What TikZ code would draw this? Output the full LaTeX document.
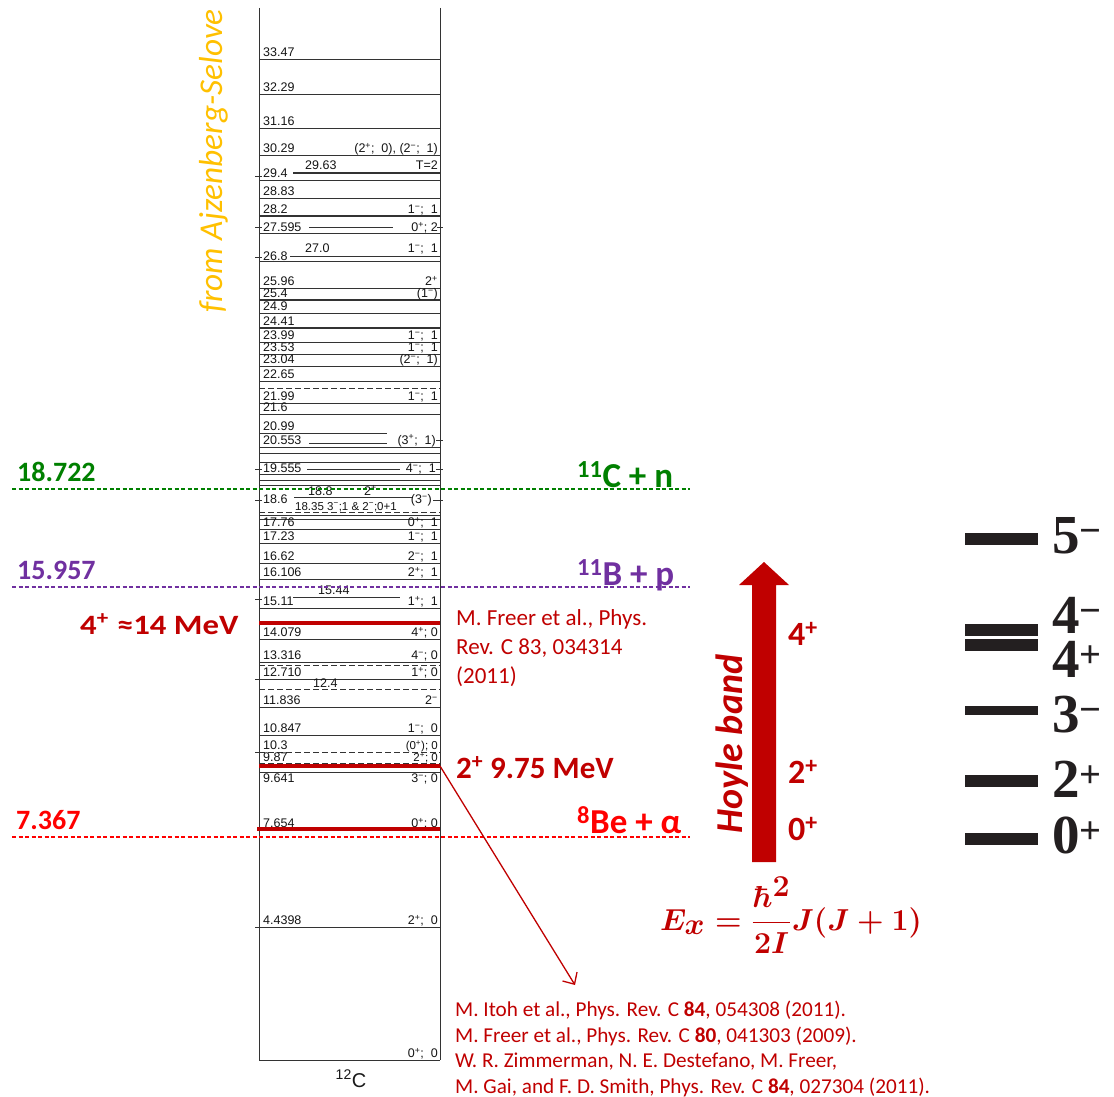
\documentclass[tikz,border=0pt]{standalone}
\usepackage[no-math]{fontspec}
\setmainfont{Carlito}
\newfontfamily\levelfont{Liberation Sans}
\newfontfamily\specfont{Liberation Serif}
\usetikzlibrary{arrows.meta}

\definecolor{darkred}{HTML}{C00000}
\definecolor{brightred}{HTML}{FF0000}
\definecolor{thrgreen}{HTML}{008000}
\definecolor{thrpurple}{HTML}{7030A0}
\definecolor{amber}{HTML}{FFC000}
\definecolor{ink}{HTML}{231F20}

\newcommand\fsz[1]{\fontsize{#1}{#1}\selectfont}
\newcommand\jp{\textsuperscript{+}}
\newcommand\jm{\textsuperscript{−}}
% rigid-rotor formula, set once in a box
\newsavebox\rotorbox
\AtBeginDocument{\sbox\rotorbox{\color{darkred}\fsz{34}\boldmath$\displaystyle E_x=\frac{\hbar^2}{2I}J(J+1)$}}

% one level of the 12C scheme: line, energy on the left, J^pi;T on the right
\newcommand\lev[3]{%
  \draw[level] (259,#1) -- (440,#1);
  \node[elabel] (L#1) at (263,#1-2.5) {#2};
  \node[jlabel] (R#1) at (438,#1-2.5) {#3};}

\begin{document}
\begin{tikzpicture}[x=1pt,y=-1pt,
  level/.style={draw=black!80, line width=0.8pt},
  heavy level/.style={level, line width=1.5pt},
  broken level/.style={level, dash pattern=on 6pt off 3pt},
  elabel/.style={font=\levelfont\fsz{12.5}, text=black!92, inner sep=0pt, anchor=base west},
  jlabel/.style={elabel, anchor=base east},
  tick/.style={level},
  threshold/.style={line width=1.3pt, dash pattern=on 4pt off 2.5pt},
  hoyle level/.style={draw=darkred, line width=4.5pt},
  bigbold/.style={font=\bfseries\fsz{28}, inner sep=0pt, anchor=base west},
  chan/.style={font=\bfseries\fsz{35}, inner sep=0pt, anchor=base west},
  spin/.style={font=\bfseries\fsz{34}, text=darkred, inner sep=0pt, anchor=base west},
  cite/.style={font=\fsz{23}, text=darkred, inner sep=0pt, anchor=base west},
  refline/.style={font=\fsz{21.2}, text=darkred, inner sep=0pt, anchor=base west},
  bar/.style={fill=ink},
  speclab/.style={font=\specfont\bfseries\fsz{55}, text=ink, inner sep=0pt, anchor=base west},
]
\clip (0,0) rectangle (1114,1097);
\fill[white] (0,0) rectangle (1114,1097);

% ---------- level scheme of 12C ----------
\draw[level] (259,8) -- (259,1060);
\draw[level] (440,8) -- (440,1060);

\lev{59}{33.47}{}
\lev{94}{32.29}{}
\lev{128}{31.16}{}
\lev{155}{30.29}{(2\jp;\ \ 0), (2\jm;\ \ 1)}
\draw[heavy level] (293,173) -- (440,173);
\node[elabel] (L173) at (305,170) {29.63};
\node[jlabel] (R173) at (438,170) {T=2};
\lev{180}{29.4}{}
\draw[tick] (255,176) -- (262,176);
\lev{198}{28.83}{}
\draw[heavy level] (259,216) -- (440,216);
\node[elabel] (L216) at (263,213.5) {28.2};
\node[jlabel] (R216) at (438,213.5) {1\jm;\ \ 1};
\draw[level] (309,227) -- (393,227);
\node[elabel] (L227) at (263,231.5) {27.595};
\node[jlabel] (R227) at (438,231.5) {0\jp;\ 2};
\draw[tick] (255,227) -- (262,227);
\draw[tick] (437,227) -- (443,227);
\lev{233}{}{}
\draw[level] (290,256) -- (440,256);
\node[elabel] (L256) at (305,252.5) {27.0};
\node[jlabel] (R256) at (438,252.5) {1\jm;\ \ 1};
\draw[level] (259,261) -- (440,261);
\node[elabel] (L261) at (263,260) {26.8};
\draw[tick] (255,257) -- (262,257);
\lev{288}{25.96}{2\jp}
\draw[heavy level] (259,300) -- (440,300);
\node[elabel] (L300) at (263,297.5) {25.4};
\node[jlabel] (R300) at (438,297.5) {(1\jm)};
\lev{313}{24.9}{}
\draw[heavy level] (259,328) -- (440,328);
\node[elabel] (L328) at (263,325.5) {24.41};
\lev{342}{23.99}{1\jm;\ \ 1}
\lev{354}{23.53}{1\jm;\ \ 1}
\lev{366}{23.04}{(2\jm;\ \ 1)}
\lev{381}{22.65}{}
\draw[broken level] (259,388) -- (440,388);
\lev{403}{21.99}{1\jm;\ \ 1}
\lev{414}{21.6}{}
\draw[level] (259,433) -- (387,433);
\node[elabel] (L433) at (263,430.5) {20.99};
\draw[level] (309,443) -- (387,443);
\node[elabel] (L443) at (263,444) {20.553};
\node[jlabel] (R443) at (436,444) {(3\jp;\ \ 1)};
\draw[tick] (436,440) -- (443,440);
\lev{447}{}{}
\lev{453}{}{}
\lev{462}{}{}
\draw[level] (307,469) -- (400,469);
\node[elabel] (L469) at (263,472.5) {19.555};
\node[jlabel] (R469) at (436,472.5) {4\jm;\ \ 1};
\draw[tick] (255,469) -- (262,469);
\draw[tick] (436,469) -- (443,469);
\lev{474}{}{}
\lev{480}{}{}
\lev{485}{}{}
\draw[level] (294,497) -- (413,497);
\node[elabel] (L497) at (308,495) {18.8};
\node[elabel] (M497) at (364,495) {2\jp};
\node[elabel] (L503) at (263,503.5) {18.6};
\node[jlabel] (R503) at (432,503.5) {(3\jm)};
\draw[tick] (255,500) -- (262,500);
\draw[tick] (433,500) -- (443,500);
\node[elabel, font=\levelfont\fsz{11.5}] (L510) at (295,510) {18.35 3\jm;1 \& 2\jm;0+1};
\draw[broken level] (259,512) -- (440,512);
\lev{515}{}{}
\lev{519}{}{}
\lev{529}{17.76}{0\jp;\ \ 1}
\lev{543}{17.23}{1\jm;\ \ 1}
\lev{563}{16.62}{2\jm;\ \ 1}
\lev{579}{16.106}{2\jp;\ \ 1}
\draw[level] (293,597) -- (400,597);
\node[elabel] (L597) at (318,594.5) {15.44};
\lev{608}{15.11}{1\jp;\ \ 1}
\draw[tick] (255,599) -- (262,599);
\lev{639}{14.079}{4\jp;\ 0}
\lev{662}{13.316}{4\jm;\ 0}
\draw[broken level] (259,665) -- (440,665);
\lev{679}{12.710}{1\jp;\ 0}
\draw[tick] (255,679) -- (262,679);
\draw[broken level] (259,689) -- (440,689);
\node[elabel] (L689) at (313,687.5) {12.4};
\lev{707}{11.836}{2\jm}
\lev{735}{10.847}{1\jm;\ \ 0}
\draw[broken level] (259,752) -- (440,752);
\node[elabel] (L752) at (263,749.5) {10.3};
\node[jlabel, font=\levelfont\fsz{11.5}] (R752) at (438,749.5) {(0\jp); 0};
\draw[tick] (255,752) -- (262,752);
\draw[broken level] (259,763) -- (440,763);
\node[elabel] (L763) at (263,761.5) {9.87};
\node[jlabel, font=\levelfont\fsz{11.5}] (R763) at (438,761.5) {2\jp; 0};
\draw[level] (259,772) -- (440,772);
\node[elabel] (L783) at (263,782.5) {9.641};
\node[jlabel] (R783) at (438,782.5) {3\jm ; 0};
\lev{830}{7.654}{0\jp;\ 0}
\lev{927}{4.4398}{2\jp;\ \ 0}
\draw[tick] (255,927) -- (262,927);
\lev{1060}{}{0\jp;\ \ 0}
\node[font=\levelfont\fsz{20}, text=black!90, inner sep=0pt, anchor=base] (c12) at (351,1087) {\textsuperscript{12}C};

% ---------- levels of the Hoyle band ----------
\draw[hoyle level] (259,623) -- (440,623);
\coordinate (hoyle4) at (440,623);
\draw[hoyle level] (259,766) -- (440,766);
\coordinate (hoyle2) at (440,766);
\draw[hoyle level] (257,829) -- (440,829);
\coordinate (hoyle0) at (440,829);

% ---------- particle thresholds ----------
\draw[threshold, draw=thrgreen] (12,489) -- (690,489);
\draw[threshold, draw=thrpurple] (12,587) -- (690,587);
\draw[threshold, draw=brightred] (12,837) -- (690,837);
\node[bigbold, text=thrgreen] (sn) at (17,481) {18.722};
\node[bigbold, text=thrpurple] (sp) at (17,579) {15.957};
\node[bigbold, text=brightred] (sa) at (16,829) {7.367};
\node[chan, text=thrgreen] (cn) at (577,487) {\textsuperscript{11}C + n};
\node[chan, text=thrpurple] (bp) at (577,585) {\textsuperscript{11}B + p};
\node[chan, text=brightred] (bea) at (577,833) {\textsuperscript{8}Be + α};

% ---------- annotations ----------
\node[text=amber, font=\itshape\fsz{33.3}, rotate=90, inner sep=0pt, anchor=base] (source) at (222,161) {from Ajzenberg-Selove};
\node[bigbold, text=darkred, xscale=1.17] (four) at (80,634) {4\textsuperscript{+}\hspace{0.25em}≈14 MeV};
\node[cite] (f1) at (456,625) {M. Freer et al., Phys.};
\node[cite] (f2) at (456,654) {Rev. C 83, 034314};
\node[cite] (f3) at (456,683) {(2011)};
\node[bigbold, font=\bfseries\fsz{31}, text=darkred] (two) at (456,778) {2\textsuperscript{+} 9.75 MeV};

\coordinate (reftip) at (575,985);
\draw[darkred, line width=1.3pt, -{Straight Barb[length=9pt, width=17pt]}] (hoyle2) -- (reftip);
\node[refline] (r1) at (455,1016) {M. Itoh et al., Phys. Rev. C \textbf{84}, 054308 (2011).};
\node[refline] (r2) at (455,1042) {M. Freer et al., Phys. Rev. C \textbf{80}, 041303 (2009).};
\node[refline] (r3) at (455,1067) {W. R. Zimmerman, N. E. Destefano, M. Freer,};
\node[refline] (r4) at (455,1093) {M. Gai, and F. D. Smith, Phys. Rev. C \textbf{84}, 027304 (2011).};

% ---------- rotational band arrow ----------
\fill[darkred] (752,862) -- (752,585) -- (739,585) -- (764,562) -- (789,585) -- (776,585) -- (776,862) -- cycle;
\node[font=\bfseries\itshape\fsz{38}, text=darkred, rotate=90, inner sep=0pt, anchor=base] (band) at (742,744) {Hoyle band};
\node[spin] (s4) at (788,645) {4\textsuperscript{+}};
\node[spin] (s2) at (788,783) {2\textsuperscript{+}};
\node[spin] (s0) at (788,840) {0\textsuperscript{+}};
\node[inner sep=0pt, scale=1.22] (rotor) at (791,915) {\usebox\rotorbox};

% ---------- spectrum on the right ----------
\fill[bar] (965,533) rectangle (1038,545);
\fill[bar] (965,624) rectangle (1038,636);
\fill[bar] (965,639) rectangle (1038,651);
\fill[bar] (965,706) rectangle (1038,715);
\fill[bar] (965,775) rectangle (1038,787);
\fill[bar] (965,833) rectangle (1038,845);
\node[speclab] (l5) at (1052,553) {5\textsuperscript{−}};
\node[speclab] (l4m) at (1052,633) {4\textsuperscript{−}};
\node[speclab] (l4p) at (1052,677) {4\textsuperscript{+}};
\node[speclab] (l3) at (1052,732) {3\textsuperscript{−}};
\node[speclab] (l2) at (1052,797) {2\textsuperscript{+}};
\node[speclab] (l0) at (1052,853) {0\textsuperscript{+}};
\end{tikzpicture}
\end{document}
